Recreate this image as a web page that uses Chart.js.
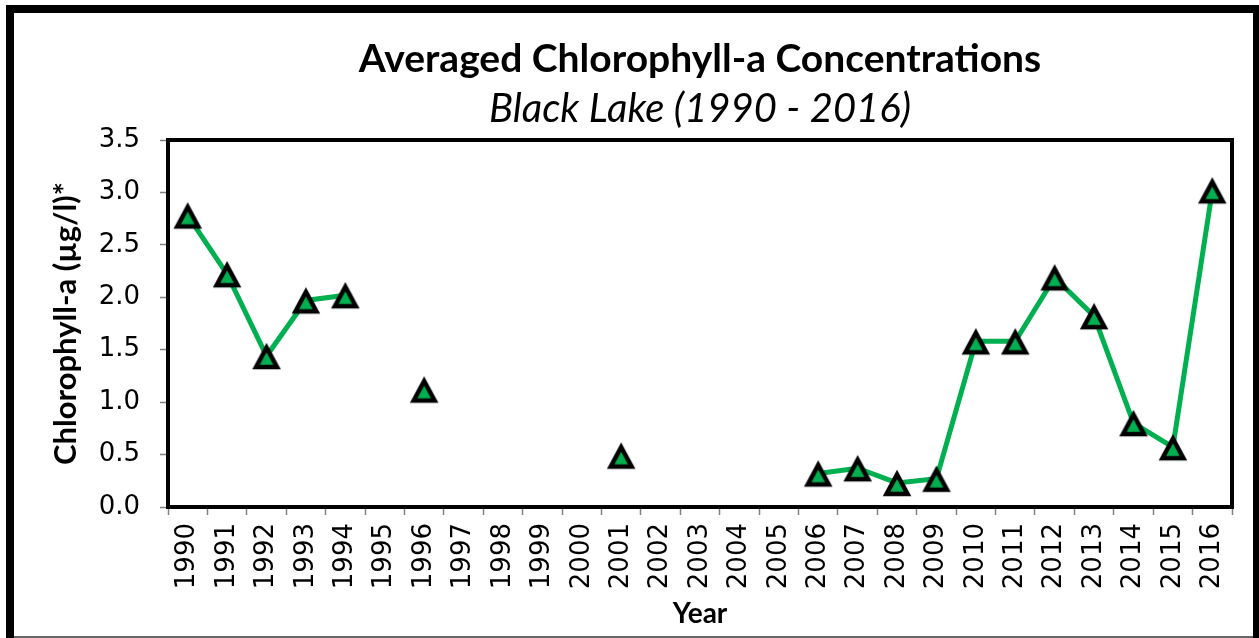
<!DOCTYPE html>
<html>
<head>
<meta charset="utf-8">
<script src="https://cdn.jsdelivr.net/npm/chart.js@4.4.1/dist/chart.umd.min.js"></script>
<style>
  html, body { margin: 0; padding: 0; background: #fff; }
  canvas { display: block; }
</style>
</head>
<body>
<canvas id="chl-chart" width="1259" height="638"></canvas>
<script>
// years on the category axis (every year, even without a sample)
const years = ['1990', '1991', '1992', '1993', '1994', '1995', '1996', '1997', '1998',
  '1999', '2000', '2001', '2002', '2003', '2004', '2005', '2006', '2007', '2008',
  '2009', '2010', '2011', '2012', '2013', '2014', '2015', '2016'];

// averaged chlorophyll-a, ug/l (null = no sampling that year)
const chlorophyll = [2.78, 2.22, 1.44, 1.97, 2.02, null, 1.12, null, null,
  null, null, 0.49, null, null, null, null, 0.32, 0.37, 0.23,
  0.27, 1.58, 1.58, 2.19, 1.82, 0.80, 0.57, 3.02];

const yMin = 0;
const yMax = 3.5;
const yStep = 0.5;

const green = '#00b050';

// excel style triangle marker, box centred on the value
function makeTriangle() {
    const c = document.createElement('canvas');
    c.width = 36;
    c.height = 36;
    const g = c.getContext('2d');
    g.beginPath();
    g.moveTo(18, 9.45);
    g.lineTo(28.5, 28.95);
    g.lineTo(7.5, 28.95);
    g.closePath();
    g.fillStyle = green;
    g.fill();
    g.lineWidth = 4.5;
    g.lineJoin = 'miter';
    g.strokeStyle = '#000';
    g.stroke();
    return c;
}

// white page, outer frame and the heavy plot border
const framePlugin = {
    id: 'frame',
    beforeDraw(chart) {
        const ctx = chart.ctx;
        ctx.save();
        ctx.fillStyle = '#fff';
        ctx.fillRect(0, 0, chart.width, chart.height);
        ctx.restore();
    },
    afterDraw(chart) {
        const ctx = chart.ctx;
        const a = chart.chartArea;
        ctx.save();
        ctx.fillStyle = '#000';
        ctx.fillRect(6, 5, 8, 633);      // left
        ctx.fillRect(6, 5, 1253, 8);     // top
        ctx.fillRect(1253, 5, 6, 633);   // right
        ctx.fillStyle = '#666';
        ctx.fillRect(14, 636, 1239, 2);  // bottom edge
        ctx.strokeStyle = '#000';
        ctx.lineWidth = 4;
        ctx.strokeRect(a.left, a.top, a.right - a.left, a.bottom - a.top);
        ctx.restore();
    }
};

const ctx = document.getElementById('chl-chart').getContext('2d');

new Chart(ctx, {
    type: 'line',
    data: {
        labels: years,
        datasets: [{
            label: 'Chlorophyll-a',
            data: chlorophyll,
            borderColor: green,
            borderWidth: 5,
            backgroundColor: green,
            pointStyle: makeTriangle(),
            pointRadius: 14,
            spanGaps: false,
            tension: 0,
            fill: false
        }]
    },
    options: {
        responsive: false,
        animation: false,
        devicePixelRatio: 1,
        layout: {
            padding: { left: 14, right: 27, top: 0, bottom: 0 }
        },
        plugins: {
            legend: { display: false },
            tooltip: { enabled: false },
            title: {
                display: true,
                text: 'Averaged Chlorophyll-a Concentrations',
                color: '#000',
                fullSize: false,
                font: { family: 'Lato', size: 39, weight: 'bold', lineHeight: 1.2 },
                padding: { top: 36.5, bottom: 0 }
            },
            subtitle: {
                display: true,
                text: 'Black Lake (1990 - 2016)',
                color: '#000',
                fullSize: false,
                font: { family: 'Lato', size: 40, style: 'italic', weight: 'normal', lineHeight: 1.2 },
                padding: { top: 1.7, bottom: 7 }
            }
        },
        scales: {
            x: {
                type: 'category',
                offset: true,
                afterFit(scale) { scale.height = 131; },
                grid: {
                    offset: true,
                    drawOnChartArea: false,
                    drawTicks: true,
                    tickLength: 8,
                    tickColor: '#808080',
                    tickWidth: 1.5
                },
                border: { display: false },
                ticks: {
                    color: '#000',
                    autoSkip: false,
                    minRotation: 90,
                    maxRotation: 90,
                    padding: 8,
                    font: { family: 'DejaVu Sans', size: 26 }
                },
                title: {
                    display: true,
                    text: 'Year',
                    color: '#000',
                    font: { family: 'Lato', size: 28, weight: 'bold', lineHeight: 1.2 },
                    padding: { top: 0, bottom: 7 }
                }
            },
            y: {
                min: yMin,
                max: yMax,
                afterFit(scale) { scale.width = 154; },
                grid: {
                    drawOnChartArea: false,
                    drawTicks: true,
                    tickLength: 8,
                    tickColor: '#808080',
                    tickWidth: 1.5
                },
                border: { display: false },
                ticks: {
                    stepSize: yStep,
                    color: '#000',
                    padding: 20,
                    font: { family: 'DejaVu Sans', size: 26 },
                    callback: function(value) {
                        return Number(value).toFixed(1);
                    }
                },
                title: {
                    display: true,
                    text: 'Chlorophyll-a (µg/l)*',
                    color: '#000',
                    font: { family: 'Lato', size: 31, weight: 'bold', lineHeight: 1.2 },
                    padding: { top: 33, bottom: 0 }
                }
            }
        }
    },
    plugins: [framePlugin]
});
</script>
</body>
</html>
